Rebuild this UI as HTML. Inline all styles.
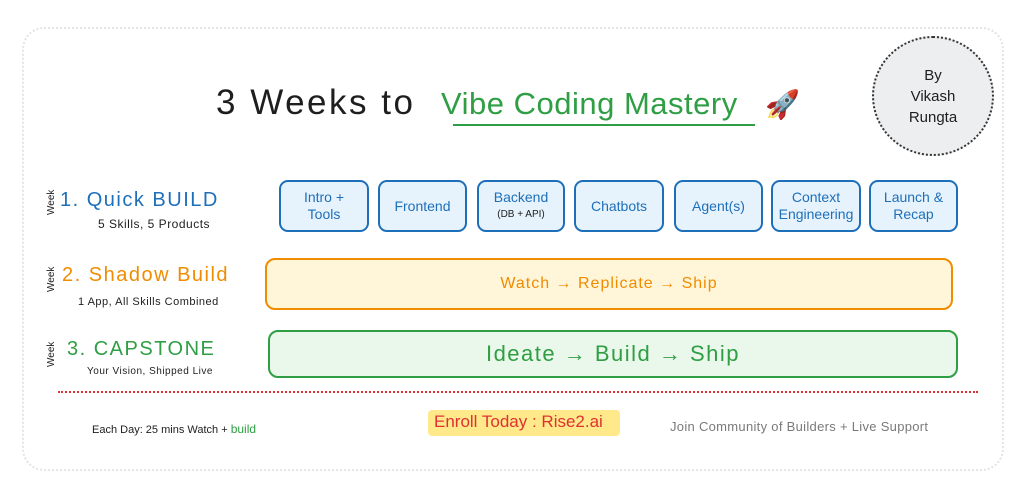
<!DOCTYPE html>
<html><head><meta charset="utf-8"><style>
body{margin:0;width:1024px;height:497px;background:#fff;position:relative;overflow:hidden;font-family:"Liberation Sans",sans-serif}
.a{position:absolute;white-space:nowrap}
.box{position:absolute;top:180px;height:52px;border:2px solid #1e6fba;border-radius:9px;background:#e6f3fc;color:#1e6fba;font-size:14px;display:flex;align-items:center;justify-content:center;text-align:center;line-height:17px;box-sizing:border-box}
.wk{position:absolute;font-size:10px;color:#222;transform:rotate(-90deg);transform-origin:left top}
</style></head><body>
<div class="a" style="left:22px;top:27px;width:978px;height:440px;border:2px dotted #e4e4e4;border-radius:22px"></div>
<div class="a" style="left:216px;top:83px;font-size:35px;color:#1e1e1e;letter-spacing:2.5px">3 Weeks to</div>
<div class="a" style="left:441px;top:86px;font-size:31px;color:#2f9e44;letter-spacing:0.5px">Vibe Coding Mastery</div>
<div class="a" style="left:765px;top:88px;font-size:28px">🚀</div>
<div class="a" style="left:453px;top:124px;width:302px;height:2px;background:#2f9e44"></div>
<div class="a" style="left:872px;top:36px;width:118px;height:116px;border:2px dotted #333;border-radius:50%;background:#eceeef;display:flex;align-items:center;justify-content:center;text-align:center;font-size:15px;line-height:21px;color:#1e1e1e">By<br>Vikash<br>Rungta</div>

<div class="wk" style="left:46px;top:215px">Week</div>
<div class="a" style="left:60px;top:189px;font-size:20px;color:#1e6fba;letter-spacing:1.5px">1. Quick BUILD</div>
<div class="a" style="left:98px;top:217px;font-size:12px;color:#1e1e1e;letter-spacing:0.5px">5 Skills, 5 Products</div>
<div class="box" style="left:279px;width:90px">Intro +<br>Tools</div>
<div class="box" style="left:378px;width:89px">Frontend</div>
<div class="box" style="left:477px;width:88px;flex-direction:column">Backend<span style="font-size:10px;color:#1e1e1e">(DB + API)</span></div>
<div class="box" style="left:574px;width:90px">Chatbots</div>
<div class="box" style="left:674px;width:89px">Agent(s)</div>
<div class="box" style="left:771px;width:90px">Context<br>Engineering</div>
<div class="box" style="left:869px;width:89px">Launch &amp;<br>Recap</div>

<div class="wk" style="left:46px;top:292px">Week</div>
<div class="a" style="left:62px;top:264px;font-size:20px;color:#f08c00;letter-spacing:1.5px">2. Shadow Build</div>
<div class="a" style="left:78px;top:296px;font-size:11px;color:#1e1e1e;letter-spacing:0.5px">1 App, All Skills Combined</div>
<div class="a" style="left:265px;top:258px;width:688px;height:52px;border:2px solid #f08c00;border-radius:10px;background:#fff5d8;box-sizing:border-box;display:flex;align-items:center;justify-content:center;color:#f08c00;font-size:16px;letter-spacing:1px">Watch → Replicate → Ship</div>

<div class="wk" style="left:46px;top:367px">Week</div>
<div class="a" style="left:67px;top:338px;font-size:20px;color:#2f9e44;letter-spacing:1.5px">3. CAPSTONE</div>
<div class="a" style="left:87px;top:366px;font-size:10px;color:#1e1e1e;letter-spacing:0.5px">Your Vision, Shipped Live</div>
<div class="a" style="left:268px;top:330px;width:690px;height:48px;border:2px solid #2f9e44;border-radius:10px;background:#e9f8ea;box-sizing:border-box;display:flex;align-items:center;justify-content:center;color:#2f9e44;font-size:22px;letter-spacing:1.5px">Ideate → Build → Ship</div>

<div class="a" style="left:58px;top:391px;width:920px;border-top:2px dotted #e03131"></div>
<div class="a" style="left:92px;top:422px;font-size:11px;color:#1e1e1e">Each Day: 25 mins Watch + <span style="color:#2f9e44;font-size:12px">build</span></div>
<div class="a" style="left:428px;top:410px;width:192px;height:26px;background:#ffe98a;border-radius:4px"></div>
<div class="a" style="left:434px;top:412px;font-size:17px;color:#e03131">Enroll Today : Rise2.ai</div>
<div class="a" style="left:670px;top:419px;font-size:13px;color:#7a7a7a;letter-spacing:0.3px">Join Community of Builders + Live Support</div>
</body></html>
